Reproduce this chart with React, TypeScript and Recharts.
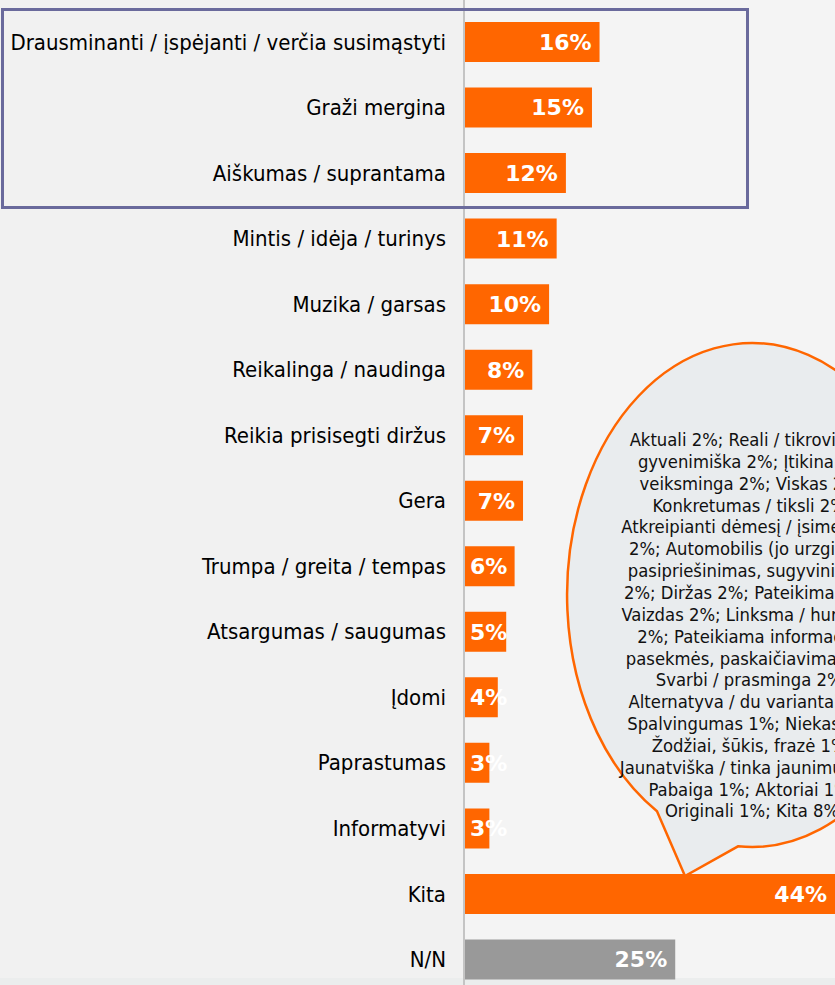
import React from 'react';
import { BarChart, Bar, XAxis, YAxis, Cell, LabelList } from 'recharts';

const categories = [
  'Drausminanti / įspėjanti / verčia susimąstyti',
  'Graži mergina',
  'Aiškumas / suprantama',
  'Mintis / idėja / turinys',
  'Muzika / garsas',
  'Reikalinga / naudinga',
  'Reikia prisisegti diržus',
  'Gera',
  'Trumpa / greita / tempas',
  'Atsargumas / saugumas',
  'Įdomi',
  'Paprastumas',
  'Informatyvi',
  'Kita',
  'N/N',
];

const values = [16, 15.1, 12, 10.9, 10, 8, 6.9, 6.9, 5.9, 4.9, 3.9, 2.9, 2.9, 44, 25];

const valueLabels = ['16%', '15%', '12%', '11%', '10%', '8%', '7%', '7%', '6%', '5%', '4%', '3%', '3%', '44%', '25%'];

const kitaLines = [
  'Aktuali 2%; Reali / tikroviška /',
  'gyvenimiška 2%; Įtikinanti /',
  'veiksminga 2%; Viskas 2%;',
  'Konkretumas / tiksli 2%;',
  'Atkreipianti dėmesį / įsimenanti',
  '2%; Automobilis (jo urzgimas,',
  'pasipriešinimas, sugyvinimas)',
  '2%; Diržas 2%; Pateikimas 2%;',
  'Vaizdas 2%; Linksma / humoras',
  '2%; Pateikiama informacija,',
  'pasekmės, paskaičiavimai 2%;',
  'Svarbi / prasminga 2%;',
  'Alternatyva / du variantai 1%;',
  'Spalvingumas 1%; Niekas 1%;',
  'Žodžiai, šūkis, frazė 1%;',
  'Jaunatviška / tinka jaunimui 1%;',
  'Pabaiga 1%; Aktoriai 1%;',
  'Originali 1%; Kita 8%',
];

const data = categories.map((name, i) => ({ name, value: values[i], label: valueLabels[i] }));

const FONT = '"DejaVu Sans Condensed", "DejaVu Sans", sans-serif';
const BOLD = '"DejaVu Sans", Verdana, sans-serif';

// rough width of the bold value label, DejaVu Sans Bold metrics
function labelWidth(text: string, size: number) {
  let w = 0;
  for (const ch of text) w += ch === '%' ? 1.002 : 0.696;
  return w * size;
}

function ValueLabel(props: any) {
  const { x, y, width, height, index } = props;
  const text = valueLabels[index];
  const size = 22;
  const tw = labelWidth(text, size);
  const tx = Math.max(x + 5, x + width - 8 - tw);
  return (
    <text
      x={tx}
      y={y + height / 2}
      dy="0.36em"
      fill="#fff"
      fontFamily={BOLD}
      fontWeight="bold"
      fontSize={size}
      textAnchor="start"
    >
      {text}
    </text>
  );
}

export default function App() {
  return (
    <div
      style={{
        position: 'absolute',
        left: 0,
        top: 0,
        width: 835,
        height: 985,
        overflow: 'hidden',
        background: 'linear-gradient(to right, #f1f1f1 465px, #f4f4f4 465px)',
      }}
    >
      <div style={{ position: 'absolute', left: 0, top: 978, width: 835, height: 7, background: '#ebeded' }} />
      <BarChart
        layout="vertical"
        width={835}
        height={992}
        data={data}
        margin={{ top: 9, right: 0, bottom: 0, left: 0 }}
        barSize={40}
      >
        <XAxis type="number" domain={[0, 44]} hide />
        <YAxis
          type="category"
          dataKey="name"
          width={465}
          axisLine={false}
          tickLine={false}
          tickSize={0}
          tickMargin={19}
          interval={0}
          tick={{ fill: '#000', fontSize: 22, fontFamily: FONT }}
        />
        <Bar dataKey="value" isAnimationActive={false}>
          {data.map((d, i) => (
            <Cell key={i} fill={d.name === 'N/N' ? '#999999' : '#ff6600'} />
          ))}
          <LabelList dataKey="label" content={ValueLabel} />
        </Bar>
      </BarChart>
      <svg
        width={835}
        height={985}
        style={{ position: 'absolute', left: 0, top: 0, pointerEvents: 'none' }}
      >
        <line x1={464} y1={0} x2={464} y2={985} stroke="#c4c4c4" strokeWidth={2} />
        <rect x={2.5} y={9.5} width={745} height={198} fill="none" stroke="#6a6a9c" strokeWidth={3} />
        <path
          d="M 738 846.3 A 185 252 0 1 0 657 811.2 L 685 876 Z"
          fill="#e9ecee"
          stroke="#ff6600"
          strokeWidth={2.5}
          strokeLinejoin="miter"
        />
        <text x={752} y={446} fontFamily={FONT} fontSize={18.3} fill="#111" textAnchor="middle">
          {kitaLines.map((line, i) => (
            <tspan key={i} x={752} dy={i === 0 ? 0 : 21.85}>
              {line}
            </tspan>
          ))}
        </text>
      </svg>
    </div>
  );
}
